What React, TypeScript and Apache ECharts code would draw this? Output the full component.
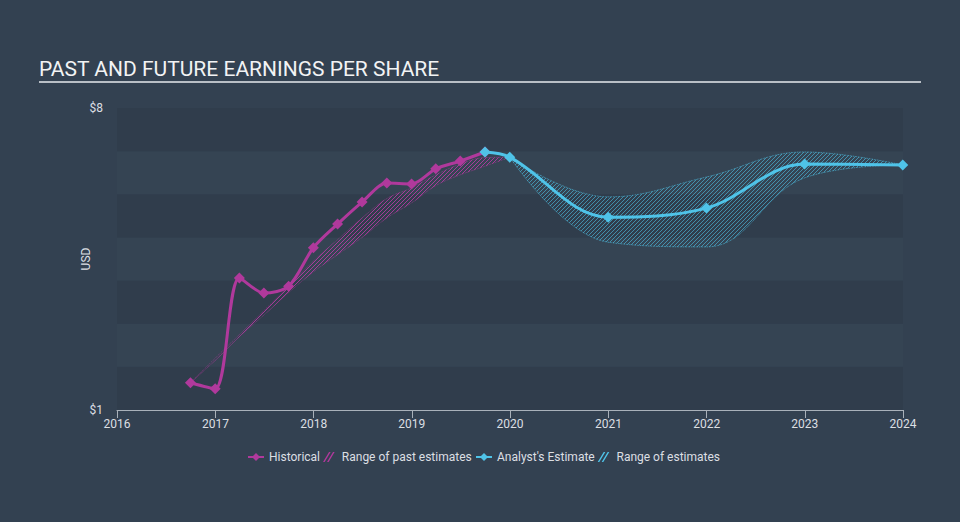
import React, { useEffect, useRef } from "react";
import * as echarts from "echarts";

// ---- data ----
const histDates = [
  "2016-09-30", "2016-12-31", "2017-03-31", "2017-06-30", "2017-09-30",
  "2017-12-31", "2018-03-31", "2018-06-30", "2018-09-30", "2018-12-31",
  "2019-03-31", "2019-06-30", "2019-09-30",
];
const histEPS = [1.63, 1.49, 4.06, 3.71, 3.87, 4.76, 5.31, 5.82, 6.26, 6.24, 6.59, 6.77, 6.98];

const pastRangeDates = [
  "2016-09-30", "2016-12-31", "2017-03-31", "2017-06-30", "2017-09-30",
  "2017-12-31", "2018-03-31", "2018-06-30", "2018-09-30", "2018-12-31",
  "2019-03-31", "2019-06-30", "2019-09-30", "2019-12-31",
];
const pastLow = [1.63, 2.15, 2.7, 3.2, 3.72, 4.2, 4.6, 5.0, 5.45, 5.8, 6.2, 6.45, 6.65, 6.86];
const pastHigh = [1.63, 2.2, 2.75, 3.3, 3.87, 4.45, 4.95, 5.45, 5.9, 6.15, 6.45, 6.7, 6.85, 6.86];

const estDates = ["2019-09-30", "2019-12-31", "2020-12-31", "2021-12-31", "2022-12-31", "2023-12-31"];
const estEPS = [6.98, 6.86, 5.47, 5.68, 6.7, 6.68];

const rangeDates = ["2019-12-31", "2020-12-31", "2021-12-31", "2022-12-31", "2023-12-31"];
const rangeLow = [6.86, 4.89, 4.78, 6.38, 6.68];
const rangeHigh = [6.86, 5.94, 6.4, 6.98, 6.68];

const yTickLabels: Record<number, string> = { 1: "$1", 8: "$8" };

const MAGENTA = "#b0399c";
const CYAN = "#4fc3e8";
const TEXT = "#dcdfe3";

function makeHatch(color: string) {
  const c = document.createElement("canvas");
  c.width = 4;
  c.height = 4;
  const ctx = c.getContext("2d")!;
  ctx.strokeStyle = color;
  ctx.lineWidth = 1;
  ctx.beginPath();
  ctx.moveTo(0, 4);
  ctx.lineTo(4, 0);
  ctx.moveTo(-1, 1);
  ctx.lineTo(1, -1);
  ctx.moveTo(3, 5);
  ctx.lineTo(5, 3);
  ctx.stroke();
  return c;
}

const HATCH_ICON = "path://M0,10L6,0L7.6,0L1.6,10Z M4,10L10,0L11.6,0L5.6,10Z";

export default function App() {
  const ref = useRef<HTMLDivElement>(null);
  useEffect(() => {
    if (!ref.current) return;
    const chart = echarts.init(ref.current, undefined, { renderer: "svg" });
    const font = "Roboto";
    const legendCommon = {
      top: 451,
      padding: 0,
      itemGap: 3,
      itemWidth: 16,
      itemHeight: 10,
      textStyle: { color: TEXT, fontSize: 12, fontFamily: font },
    };
    const option: any = {
      animation: false,
      backgroundColor: "#334151",
      textStyle: { fontFamily: font },
      title: {
        text: "PAST AND FUTURE EARNINGS PER SHARE",
        left: 34,
        top: 53,
        textStyle: { color: "#f2f3f4", fontSize: 21, fontWeight: "normal", fontFamily: font },
      },
      graphic: [
        {
          type: "line",
          shape: { x1: 39, y1: 82, x2: 921, y2: 82 },
          style: { stroke: "#b9bfc6", lineWidth: 2 },
        },
      ],
      legend: [
        {
          ...legendCommon,
          left: 247,
          data: [
            { name: "Historical" },
            { name: "Range of past estimates", icon: HATCH_ICON, itemWidth: 7, itemStyle: { color: MAGENTA } },
          ],
        },
        {
          ...legendCommon,
          left: 475,
          data: [
            { name: "Analyst's Estimate" },
            { name: "Range of estimates", icon: HATCH_ICON, itemWidth: 7, itemStyle: { color: CYAN } },
          ],
        },
      ],
      grid: { left: 117, right: 57, top: 108, bottom: 112 },
      xAxis: {
        type: "time",
        min: "2016-01-01",
        max: "2024-01-01",
        minInterval: 365 * 24 * 3600 * 1000,
        maxInterval: 366 * 24 * 3600 * 1000,
        axisLine: { lineStyle: { color: "#a9b1ba", width: 1 } },
        axisTick: { show: true, length: 8, lineStyle: { color: "#a9b1ba" } },
        axisLabel: { formatter: "{yyyy}", color: TEXT, fontSize: 12, margin: 8, showMinLabel: true, showMaxLabel: true },
        splitLine: { show: false },
      },
      yAxis: {
        type: "value",
        min: 1,
        max: 8,
        interval: 1,
        name: "USD",
        nameLocation: "middle",
        nameGap: 25,
        nameRotate: 90,
        nameMoveOverlap: false,
        nameTextStyle: { color: TEXT, fontSize: 12 },
        axisLine: { show: false },
        axisTick: { show: false },
        axisLabel: {
          color: TEXT,
          fontSize: 12,
          margin: 14,
          formatter: (v: number) => yTickLabels[v] ?? "",
        },
        splitLine: { show: false },
        splitArea: { show: true, areaStyle: { color: ["#303d4c", "#354453"] } },
      },
      series: [
        {
          name: "pastLow",
          type: "line",
          stack: "past",
          smooth: 0.4,
          symbol: "none",
          data: pastRangeDates.map((d, i) => [d, pastLow[i]]),
          lineStyle: { color: MAGENTA, width: 0.8, type: "dotted", opacity: 0.8 },
          z: 2,
        },
        {
          name: "Range of past estimates",
          type: "line",
          stack: "past",
          smooth: 0.4,
          symbol: "none",
          data: pastRangeDates.map((d, i) => [d, pastHigh[i] - pastLow[i]]),
          lineStyle: { color: MAGENTA, width: 0.8, type: "dotted", opacity: 0.8 },
          areaStyle: { color: { image: makeHatch("rgba(190,60,170,0.8)"), repeat: "repeat" }, opacity: 1 },
          itemStyle: { color: MAGENTA },
          z: 2,
        },
        {
          name: "rangeLow",
          type: "line",
          stack: "est",
          smooth: 0.4,
          symbol: "none",
          data: rangeDates.map((d, i) => [d, rangeLow[i]]),
          lineStyle: { color: CYAN, width: 0.8, type: "dotted", opacity: 0.9 },
          z: 2,
        },
        {
          name: "Range of estimates",
          type: "line",
          stack: "est",
          smooth: 0.4,
          symbol: "none",
          data: rangeDates.map((d, i) => [d, rangeHigh[i] - rangeLow[i]]),
          lineStyle: { color: CYAN, width: 0.8, type: "dotted", opacity: 0.9 },
          areaStyle: { color: { image: makeHatch("rgba(79,195,232,0.6)"), repeat: "repeat" }, opacity: 1 },
          itemStyle: { color: CYAN },
          z: 2,
        },
        {
          name: "Historical",
          type: "line",
          smooth: 0.3,
          symbol: "diamond",
          symbolSize: 11,
          data: histDates.map((d, i) => [d, histEPS[i]]),
          lineStyle: { color: MAGENTA, width: 3 },
          itemStyle: { color: MAGENTA },
          z: 3,
        },
        {
          name: "Analyst's Estimate",
          type: "line",
          smooth: 0.35,
          symbol: "diamond",
          symbolSize: 11,
          data: estDates.map((d, i) => [d, estEPS[i]]),
          lineStyle: { color: CYAN, width: 3 },
          itemStyle: { color: CYAN },
          z: 4,
        },
      ],
    };
    chart.setOption(option);
    return () => chart.dispose();
  }, []);
  return (
    <div
      ref={ref}
      style={{ position: "fixed", left: 0, top: 0, width: 960, height: 522 }}
    />
  );
}
